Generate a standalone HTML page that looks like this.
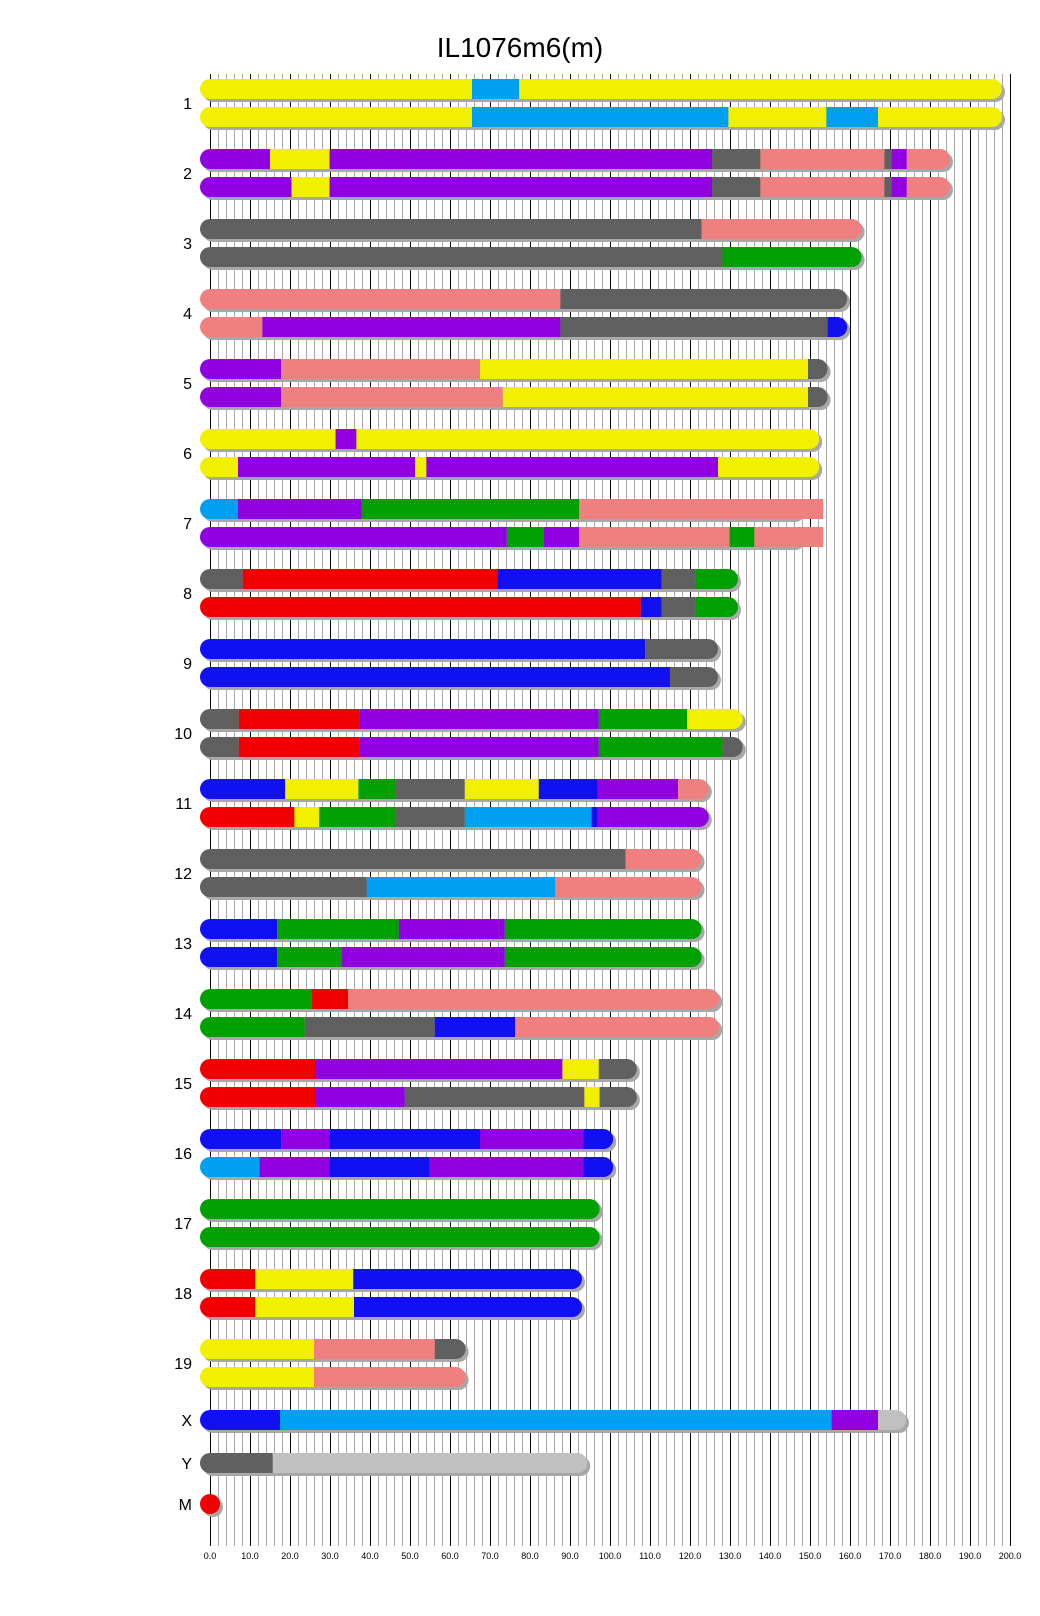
<!DOCTYPE html>
<html><head><meta charset="utf-8"><style>
body{margin:0;background:#fff}
svg{display:block}
text{font-family:"Liberation Sans",Arial,sans-serif;fill:#000}
</style></head><body>
<svg id="s" width="1040" height="1616" xmlns="http://www.w3.org/2000/svg">
<g id="grid"></g>
<g id="bars"></g>
<text x="520" y="57" font-size="28" text-anchor="middle">IL1076m6(m)</text>
<g font-size="16" text-anchor="end">
<text x="192" y="109">1</text><text x="192" y="179">2</text><text x="192" y="249">3</text><text x="192" y="319">4</text>
<text x="192" y="389">5</text><text x="192" y="459">6</text><text x="192" y="529">7</text><text x="192" y="599">8</text>
<text x="192" y="669">9</text><text x="192" y="739">10</text><text x="192" y="809">11</text><text x="192" y="879">12</text>
<text x="192" y="949">13</text><text x="192" y="1019">14</text><text x="192" y="1089">15</text><text x="192" y="1159">16</text>
<text x="192" y="1229">17</text><text x="192" y="1299">18</text><text x="192" y="1369">19</text><text x="192" y="1426">X</text>
<text x="192" y="1469">Y</text><text x="192" y="1510">M</text>
</g>
<g font-size="9" text-anchor="middle">
<text x="210" y="1559">0.0</text><text x="250" y="1559">10.0</text><text x="290" y="1559">20.0</text><text x="330" y="1559">30.0</text>
<text x="370" y="1559">40.0</text><text x="410" y="1559">50.0</text><text x="450" y="1559">60.0</text><text x="490" y="1559">70.0</text>
<text x="530" y="1559">80.0</text><text x="570" y="1559">90.0</text><text x="610" y="1559">100.0</text><text x="650" y="1559">110.0</text>
<text x="690" y="1559">120.0</text><text x="730" y="1559">130.0</text><text x="770" y="1559">140.0</text><text x="810" y="1559">150.0</text>
<text x="850" y="1559">160.0</text><text x="890" y="1559">170.0</text><text x="930" y="1559">180.0</text><text x="970" y="1559">190.0</text>
<text x="1010" y="1559">200.0</text>
</g>
</svg>
<script>
const NS="http://www.w3.org/2000/svg";
function el(p,t,a){const e=document.createElementNS(NS,t);for(const k in a)e.setAttribute(k,a[k]);p.appendChild(e);return e;}
const g=document.getElementById('grid');
for(let x=218;x<=1010;x+=8){const black=((x-210)%40===0);
 el(g,'line',{x1:x+0.5,x2:x+0.5,y1:74,y2:1546,stroke:black?'#000':'#a8a8a8','stroke-width':1});}
el(g,'line',{x1:210.5,x2:210.5,y1:74,y2:1546,stroke:'#000'});
const C={Y:'#f0f000',L:'#00a0f0',P:'#9000e0',G:'#606060',S:'#f08080',N:'#00a000',R:'#f00000',B:'#1010f0',W:'#c0c0c0'};
const b=document.getElementById('bars');
let cid=0;
function bar(y,segs,end,flatEnd){
 const X=u=>210+4*u;
 const shEnd=flatEnd?flatEnd:end;
 el(b,'rect',{x:203,y:y+3,width:X(shEnd)-200,height:20,rx:10,fill:'#a8a8a8'});
 const id='c'+(cid++);
 const cp=el(b,'clipPath',{id:id});
 if(flatEnd){el(cp,'rect',{x:200,y:y,width:30,height:20,rx:10});el(cp,'rect',{x:210,y:y,width:X(end)-210,height:20});}
 else el(cp,'rect',{x:200,y:y,width:X(end)-200,height:20,rx:10});
 const gg=el(b,'g',{'clip-path':'url(#'+id+')'});
 let prev=-5;
 for(const [c,to] of segs){const t=(to>=end)?end+5:to;
  el(gg,'rect',{x:X(prev),y:y,width:X(t)-X(prev),height:20,fill:C[c]});prev=to;}
}
const D=[
[198,[['Y',65.5],['L',77.3],['Y',999]],[['Y',65.5],['L',129.6],['Y',154.1],['L',167],['Y',999]]],
[185,[['P',15],['Y',29.9],['P',125.5],['G',137.6],['S',168.6],['G',170.4],['P',174.2],['S',999]],[['P',20.4],['Y',29.9],['P',125.5],['G',137.6],['S',168.6],['G',170.4],['P',174.2],['S',999]]],
[162.9,[['G',122.9],['S',999]],[['G',128.1],['N',999]]],
[159.3,[['S',87.6],['G',999]],[['S',13.1],['P',87.6],['G',154.4],['B',999]]],
[154.4,[['P',17.8],['S',67.5],['Y',149.5],['G',999]],[['P',17.8],['S',73.2],['Y',149.5],['G',999]]],
[152.3,[['Y',31.4],['P',36.6],['Y',999]],[['Y',7],['P',51.3],['Y',54.1],['P',127],['Y',999]]],
[153.3,[['L',7],['P',37.9],['N',92.3],['S',999]],[['P',74.2],['N',83.5],['P',92.3],['S',129.9],['N',136.1],['S',999]],148],
[132,[['G',8.2],['R',71.9],['B',112.9],['G',121.4],['N',999]],[['R',107.7],['B',112.9],['G',121.4],['N',999]]],
[127,[['B',108.8],['G',999]],[['B',115],['G',999]]],
[133.2,[['G',7.2],['R',37.4],['P',97.2],['N',119.3],['Y',999]],[['G',7.2],['R',37.4],['P',97.2],['N',128.1],['G',999]]],
[124.7,[['B',18.8],['Y',37.1],['N',46.4],['G',63.7],['Y',82.2],['B',96.9],['P',117],['S',999]],[['R',21.1],['Y',27.3],['N',46.4],['G',63.7],['L',95.4],['B',96.9],['P',999]]],
[122.9,[['G',103.9],['S',999]],[['G',39.2],['L',86.3],['S',999]]],
[122.9,[['B',16.8],['N',47.2],['P',73.7],['N',999]],[['B',16.8],['N',33],['P',73.7],['N',999]]],
[127.3,[['N',25.5],['R',34.5],['S',999]],[['N',23.7],['G',56.2],['B',76.3],['S',999]]],
[106.7,[['R',26.5],['P',88.1],['Y',97.2],['G',999]],[['R',26.5],['P',48.7],['G',93.6],['Y',97.4],['G',999]]],
[100.8,[['B',17.8],['P',29.9],['B',67.5],['P',93.3],['B',999]],[['L',12.4],['P',29.9],['B',54.9],['P',93.3],['B',999]]],
[97.4,[['N',999]],[['N',999]]],
[93,[['R',11.3],['Y',35.8],['B',999]],[['R',11.3],['Y',36],['B',999]]],
[63.9,[['Y',26],['S',56.2],['G',999]],[['Y',26],['S',999]]]
];
D.forEach((d,i)=>{const y=79+70*i;
 if(d[3]){bar(y,d[1],d[0],d[3]);bar(y+28,d[2],d[0],d[3]);}
 else{bar(y,d[1],d[0]);bar(y+28,d[2],d[0]);}
});
bar(1410,[['B',17.5],['L',155.4],['P',167],['W',999]],174);
bar(1453,[['G',15.7],['W',999]],94.3);
el(b,'circle',{cx:213,cy:1507,r:10,fill:'#a8a8a8'});
el(b,'circle',{cx:210,cy:1504,r:10,fill:'#f00000'});
</script>
</body></html>
